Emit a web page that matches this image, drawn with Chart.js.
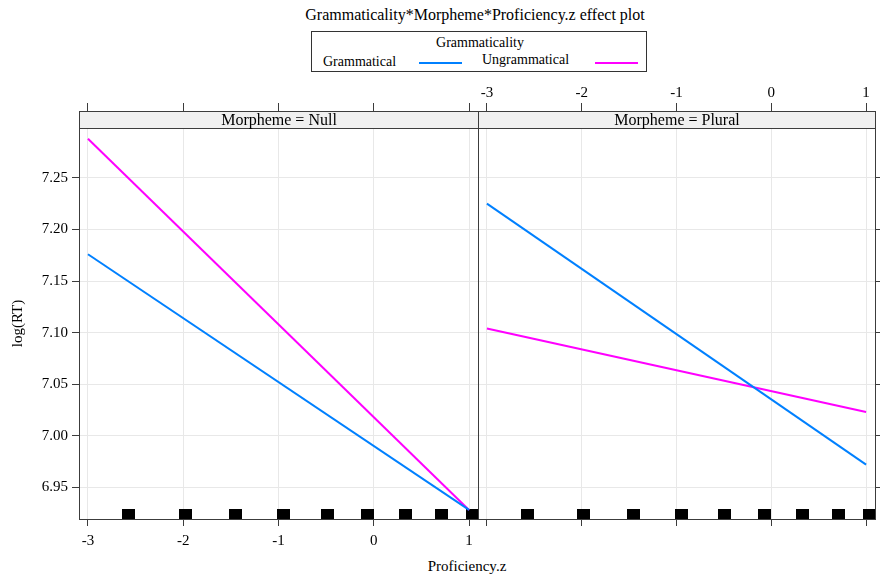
<!DOCTYPE html>
<html>
<head>
<meta charset="utf-8">
<script src="https://cdn.jsdelivr.net/npm/chart.js@4/dist/chart.umd.min.js"></script>
<style>
  html, body { margin: 0; padding: 0; background: #fff; }
  #wrap { position: relative; width: 883px; height: 575px; font-family: 'Liberation Serif', 'Times New Roman', serif; color: #000; }
  #wrap canvas { position: absolute; top: 0; }
  .txt { position: absolute; white-space: nowrap; line-height: 1; }
  .ctr { transform: translate(-50%, -50%); }
  .mid { transform: translateY(-50%); }
  #legendBox { position: absolute; left: 311px; top: 31px; width: 334px; height: 39px; border: 1px solid #333; background: #fff; }
  .key { position: absolute; height: 2px; }
</style>
</head>
<body>
<div id="wrap">
  <div class="txt ctr" style="left:475px;top:15px;font-size:16px;">Grammaticality*Morpheme*Proficiency.z effect plot</div>
  <div id="legendBox"></div>
  <div class="txt ctr" style="left:480px;top:43px;font-size:14px;">Grammaticality</div>
  <div class="txt mid" style="left:323px;top:62px;font-size:14px;">Grammatical</div>
  <div class="key" style="left:419px;top:62px;width:43px;background:#0080ff;"></div>
  <div class="txt mid" style="left:482px;top:60px;font-size:14px;">Ungrammatical</div>
  <div class="key" style="left:595px;top:62px;width:43px;background:#ff00ff;"></div>
  <div class="txt ctr" style="left:467px;top:566px;font-size:15px;">Proficiency.z</div>
  <canvas id="panelNull" width="493" height="575" style="left:0px;"></canvas>
  <canvas id="panelPlural" width="420" height="575" style="left:463px;"></canvas>
</div>
<script>
'use strict';

// Data
// --------------------------------------------------------------------
const proficiency = [-3, 1];
const nullGrammatical = [7.176, 6.928];
const nullUngrammatical = [7.288, 6.928];
const pluralGrammatical = [7.225, 6.972];
const pluralUngrammatical = [7.104, 7.023];
const rugX = [-2.57, -1.98, -1.45, -0.95, -0.49, -0.07, 0.33, 0.71, 1.04];
const xTicks = [-3, -2, -1, 0, 1];
const yTicks = [6.95, 7.0, 7.05, 7.1, 7.15, 7.2, 7.25];

const X_MIN = -3.094, X_MAX = 1.094;
const Y_MIN = 6.9192, Y_MAX = 7.2984;

const blueColor = '#0080ff',
  magentaColor = '#ff00ff',
  gridColor = '#e8e8e8',
  frameColor = '#3c3c3c';

Chart.defaults.font.family = "'Liberation Serif', 'Times New Roman', serif";
Chart.defaults.font.size = 15;
Chart.defaults.color = '#000';

// rug mark: black block sitting on the bottom of the panel
const rugMark = document.createElement('canvas');
rugMark.width = 13;
rugMark.height = 20;
rugMark.getContext('2d').fillRect(0, 0, 13, 10);

function toPoints(xs, ys) {
  return xs.map((x, i) => ({ x: x, y: ys[i] }));
}

function fixTicks(list) {
  return function (scale) {
    scale.ticks = list.map(v => ({ value: v }));
  };
}

// strip on top + frame round every panel
const stripPlugin = {
  id: 'strip',
  afterDraw(chart, args, opts) {
    const a = chart.chartArea, ctx = chart.ctx, h = 17;
    const l = Math.round(a.left) + 0.5, r = Math.round(a.right) + 0.5;
    const t = Math.round(a.top) + 0.5, b = Math.round(a.bottom) + 0.5;
    ctx.save();
    ctx.fillStyle = '#f0f0f0';
    ctx.fillRect(l, t - h, r - l, h);
    ctx.strokeStyle = frameColor;
    ctx.lineWidth = 1;
    ctx.strokeRect(l, t - h, r - l, h);
    ctx.strokeRect(l, t, r - l, b - t);
    ctx.fillStyle = '#000';
    ctx.font = "16px 'Liberation Serif', serif";
    ctx.textAlign = 'center';
    ctx.textBaseline = 'middle';
    ctx.fillText(opts.text, (l + r) / 2, t - h / 2 + 1);
    ctx.restore();
  }
};

function panelConfig(stripText, gramY, ungramY, isLeft) {
  return {
    type: 'line',
    data: {
      datasets: [
        { data: toPoints(proficiency, gramY), borderColor: blueColor, borderWidth: 2, pointRadius: 0, tension: 0, clip: 0 },
        { data: toPoints(proficiency, ungramY), borderColor: magentaColor, borderWidth: 2, pointRadius: 0, tension: 0, clip: 0 },
        {
          type: 'scatter',
          data: rugX.map(x => ({ x: x, y: Y_MIN })),
          pointStyle: rugMark,
          pointRadius: 7,
          clip: 0
        }
      ]
    },
    options: {
      responsive: false,
      animation: false,
      events: [],
      layout: { padding: isLeft ? { right: 15 } : { left: 15 } },
      plugins: {
        legend: { display: false },
        tooltip: { enabled: false },
        strip: { text: stripText }
      },
      scales: {
        x: {
          type: 'linear',
          position: 'bottom',
          min: X_MIN,
          max: X_MAX,
          afterBuildTicks: fixTicks(xTicks),
          afterFit: s => { s.height = 56; },
          border: { display: false },
          grid: { color: gridColor, tickColor: frameColor, tickLength: 7 },
          ticks: { display: isLeft, padding: 6, maxRotation: 0 }
        },
        xTop: {
          type: 'linear',
          axis: 'x',
          position: 'top',
          min: X_MIN,
          max: X_MAX,
          afterBuildTicks: fixTicks(xTicks),
          afterFit: s => { s.height = 128; },
          border: { display: false },
          grid: { drawOnChartArea: false, tickColor: frameColor, tickLength: 25 },
          ticks: { display: !isLeft, padding: 1, maxRotation: 0 }
        },
        y: {
          type: 'linear',
          position: isLeft ? 'left' : 'right',
          min: Y_MIN,
          max: Y_MAX,
          afterBuildTicks: fixTicks(yTicks),
          afterFit: s => { s.width = isLeft ? 79 : 5; },
          border: { display: false },
          grid: { color: gridColor, tickColor: frameColor, tickLength: isLeft ? 7 : 5 },
          ticks: { display: isLeft, padding: 4, callback: v => v.toFixed(2) },
          title: { display: isLeft, text: 'log(RT)', padding: { top: 9, bottom: 0 } }
        }
      }
    },
    plugins: [stripPlugin]
  };
}

new Chart(document.getElementById('panelNull'),
  panelConfig('Morpheme = Null', nullGrammatical, nullUngrammatical, true));
new Chart(document.getElementById('panelPlural'),
  panelConfig('Morpheme = Plural', pluralGrammatical, pluralUngrammatical, false));
</script>
</body>
</html>
